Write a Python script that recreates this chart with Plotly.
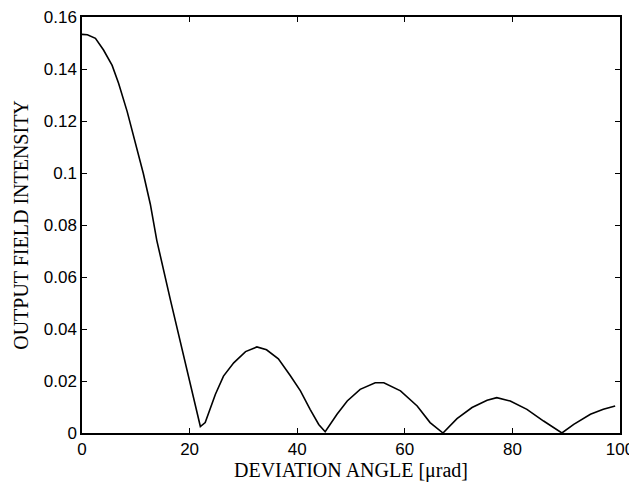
import plotly.graph_objects as go

angle = [0, 1.0, 2.5, 4.0, 5.6, 6.8, 8.4, 9.9, 11.4, 12.7, 13.9, 16.4, 19.5, 20.1, 22.0,
         22.9, 24.8, 26.3, 28.2, 30.4, 32.5, 34.3, 36.5, 38.7, 40.6, 42.4, 44.0, 45.2,
         47.4, 49.3, 51.7, 54.5, 56.1, 59.2, 62.3, 64.7, 67.1,
         69.7, 72.5, 75.3, 77.1, 79.6, 82.7, 85.8, 88.0, 89.2,
         91.4, 94.5, 96.9, 99.1]
intensity = [0.1533, 0.1532, 0.1518, 0.1473, 0.1414, 0.1345, 0.1236, 0.1114, 0.0998, 0.0880, 0.0741, 0.0515, 0.0250, 0.0190, 0.0025,
             0.0040, 0.0149, 0.0219, 0.0270, 0.0313, 0.0331, 0.0320, 0.0285, 0.0221, 0.0162, 0.0091, 0.0033, 0.0005,
             0.0072, 0.0123, 0.0168, 0.0193, 0.0193, 0.0162, 0.0104, 0.0040, 0.0000,
             0.0055, 0.0098, 0.0126, 0.0136, 0.0123, 0.0091, 0.0046, 0.0014, 0.0000,
             0.0033, 0.0072, 0.0091, 0.0104]

x_ticks = [0, 20, 40, 60, 80, 100]
y_ticks = [0, 0.02, 0.04, 0.06, 0.08, 0.1, 0.12, 0.14, 0.16]
y_labels = ["0", "0.02", "0.04", "0.06", "0.08", "0.1", "0.12", "0.14", "0.16"]

fig = go.Figure()
fig.add_trace(go.Scatter(x=angle, y=intensity, mode="lines",
                         line=dict(color="black", width=1.6), showlegend=False))

axis_common = dict(showline=True, linecolor="black", linewidth=1.5, mirror="ticks",
                   ticks="inside", ticklen=5, tickcolor="black", tickwidth=1,
                   showgrid=False, zeroline=False, automargin=False,
                   ticklabeloverflow="allow",
                   tickfont=dict(family="Liberation Sans, Arial", size=17, color="black"))

fig.update_xaxes(range=[0, 100], tickvals=x_ticks, ticktext=[str(v) for v in x_ticks],
                 title=dict(text="DEVIATION ANGLE [\u03bcrad]", standoff=4,
                            font=dict(family="Liberation Serif, Times New Roman", size=20, color="black")),
                 **axis_common)
fig.update_yaxes(range=[0, 0.16], tickvals=y_ticks, ticktext=y_labels,
                 title=dict(text="OUTPUT FIELD INTENSITY", standoff=10,
                            font=dict(family="Liberation Serif, Times New Roman", size=20, color="black")),
                 **axis_common)

# page body has an 8px default margin; offsets keep the plot area where the reference has it
fig.update_layout(width=637, height=485, margin=dict(l=74, r=25, t=9, b=60, autoexpand=False),
                  plot_bgcolor="white", paper_bgcolor="white")

fig.write_html("out.html")
